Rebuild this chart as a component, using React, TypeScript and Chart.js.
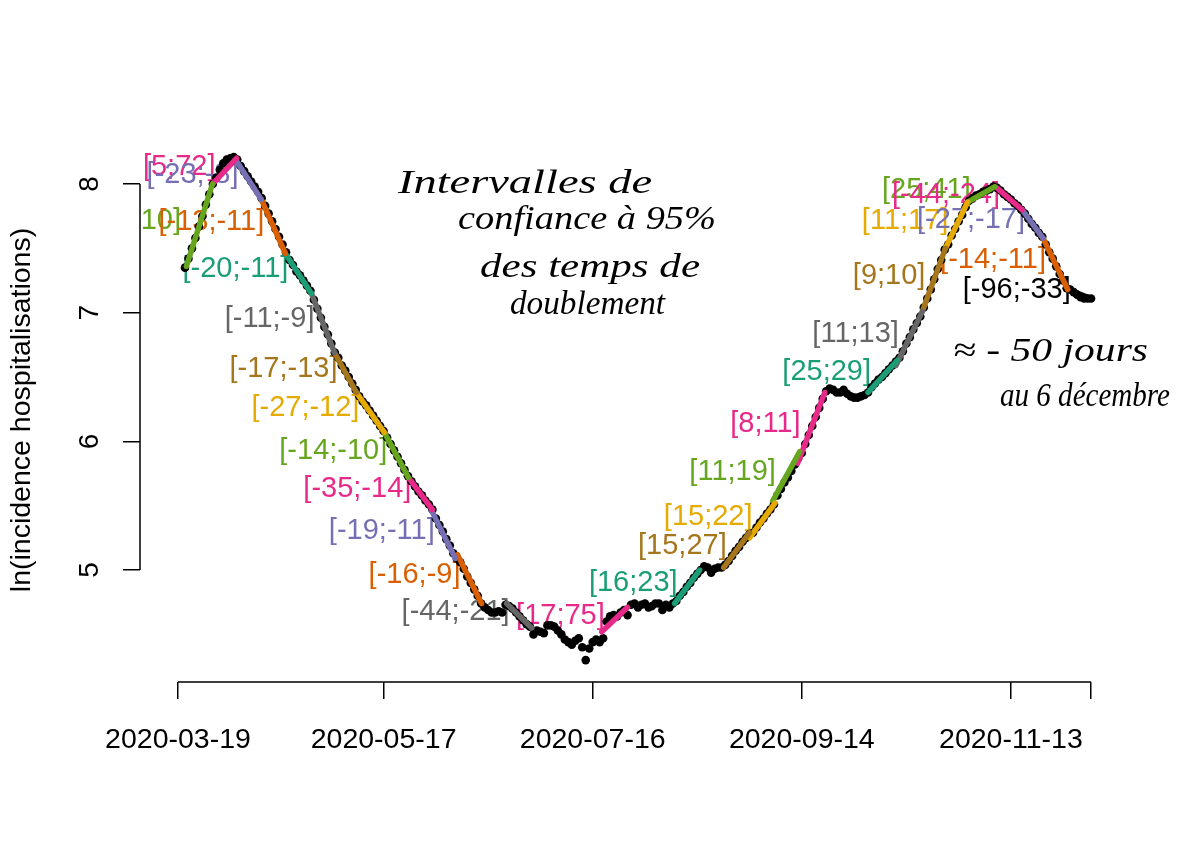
import React, { useEffect, useRef } from 'react';
import { Chart, registerables } from 'chart.js';

Chart.register(...registerables);

// Days since 2020-03-19
const startDate = '2020-03-19';
const tickDays = [0, 59, 119, 179, 239, 262];
const tickLabels = ['2020-03-19', '2020-05-17', '2020-07-16', '2020-09-14', '2020-11-13', ''];
const yTicks = [5, 6, 7, 8];
const yTitle = 'ln(incidence hospitalisations)';

// ln(incidence) per day, index = days since startDate
const lnIncidence: (number | null)[] = [
  null, null, 7.35, 7.42, 7.50, 7.58, 7.67, 7.75, 7.84, 7.92,
  8.00, 8.05, 8.11, 8.16, 8.19, 8.20, 8.21, 8.19, 8.14, 8.10,
  8.06, 8.02, 7.98, 7.94, 7.89, 7.83, 7.77, 7.71, 7.65, 7.59,
  7.53, 7.47, 7.41, 7.37, 7.32, 7.29, 7.25, 7.21, 7.17, 7.10,
  7.03, 6.96, 6.89, 6.83, 6.76, 6.69, 6.65, 6.59, 6.55, 6.50,
  6.45, 6.40, 6.35, 6.31, 6.28, 6.24, 6.20, 6.16, 6.12, 6.08,
  6.03, 5.98, 5.93, 5.88, 5.83, 5.78, 5.73, 5.69, 5.65, 5.61,
  5.58, 5.54, 5.51, 5.47, 5.40, 5.35, 5.30, 5.24, 5.19, 5.13,
  5.09, 5.06, 5.01, 4.95, 4.90, 4.85, 4.80, 4.74, 4.71, 4.69,
  4.67, 4.67, 4.68, 4.67, 4.73, 4.72, 4.70, 4.67, 4.64, 4.61,
  4.58, 4.56, 4.50, 4.53, 4.52, 4.51, 4.57, 4.57, 4.56, 4.53,
  4.50, 4.46, 4.44, 4.42, 4.45, 4.47, 4.40, 4.30, 4.39, 4.44,
  4.46, 4.44, 4.47, 4.60, 4.64, 4.65, 4.64, 4.67, 4.69, 4.65,
  4.73, 4.74, 4.71, 4.73, 4.74, 4.71, 4.72, 4.74, 4.74, 4.69,
  4.73, 4.71, 4.74, 4.76, 4.80, 4.83, 4.87, 4.90, 4.94, 4.97,
  5.00, 5.03, 5.02, 4.98, 5.01, 5.02, 5.02, 5.04, 5.07, 5.11,
  5.15, 5.18, 5.22, 5.25, 5.28, 5.29, 5.33, 5.37, 5.40, 5.44,
  5.47, 5.51, 5.58, 5.63, 5.68, 5.72, 5.77, 5.82, 5.87, 5.91,
  5.98, 6.05, 6.12, 6.19, 6.26, 6.33, 6.39, 6.41, 6.40, 6.38,
  6.38, 6.40, 6.37, 6.35, 6.34, 6.34, 6.35, 6.36, 6.38, 6.42,
  6.45, 6.48, 6.50, 6.53, 6.56, 6.59, 6.62, 6.65, 6.70, 6.76,
  6.81, 6.87, 6.92, 6.97, 7.04, 7.11, 7.18, 7.26, 7.34, 7.41,
  7.49, 7.53, 7.60, 7.65, 7.71, 7.76, 7.82, 7.87, 7.89, 7.91,
  7.92, 7.94, 7.95, 7.96, 7.98, 7.97, 7.95, 7.92, 7.90, 7.88,
  7.85, 7.83, 7.80, 7.77, 7.73, 7.69, 7.66, 7.62, 7.59, 7.53,
  7.47, 7.42, 7.36, 7.30, 7.25, 7.19, 7.18, 7.16, 7.14, 7.12,
  7.11, 7.11, 7.11,
];

// Fitted segments (days since startDate, ln values)
const segWindowStart = [0, 9.9, 16.5, 23.9, 30.8, 38.3, 44.9, 51.2, 59.2, 66.1, 72.8, 80.2, 94.3, 121.6, 142.5, 156.6, 164, 170.7, 177.8, 198, 206, 213.6, 220.2, 226.6, 235, 242.2, 248.2, 255.3];
const segStartDay = [2.4, 9.9, 16.5, 23.9, 30.8, 38.3, 44.9, 51.2, 59.2, 66.1, 72.8, 80.2, 94.3, 121.6, 142.5, 156.6, 164, 170.7, 177.8, 198, 206, 213.6, 220.2, 226.6, 235, 242.2, 248.2, 255.3];
const segEndDay = [9.9, 16.8, 23.9, 30.8, 38.3, 44.9, 51.2, 59.2, 66.1, 73.0, 79.6, 87.1, 101.5, 129, 149.7, 164, 171.3, 178.4, 185.6, 206.4, 213.6, 220.2, 226.6, 234.4, 242.2, 248.2, 255.3, 262];
const segFrom = [7.36, 8.00, 8.19, 7.88, 7.46, 7.15, 6.69, 6.38, 6.07, 5.72, 5.46, 5.12, 4.74, 4.52, 4.74, 5.02, 5.25, 5.54, 5.83, 6.38, 6.59, 7.01, 7.50, 7.86, 7.97, 7.80, 7.58, 7.18];
const segTo = [8.00, 8.20, 7.88, 7.46, 7.15, 6.69, 6.38, 6.07, 5.72, 5.47, 5.09, 4.74, 4.55, 4.71, 5.00, 5.29, 5.52, 5.92, 6.38, 6.63, 7.01, 7.50, 7.86, 7.98, 7.80, 7.58, 7.18, 7.11];
const segLabel = ['[6;10]', '[5;72]', '[-23;-8]', '[-13;-11]', '[-20;-11]', '[-11;-9]', '[-17;-13]', '[-27;-12]', '[-14;-10]', '[-35;-14]', '[-19;-11]', '[-16;-9]', '[-44;-21]', '[17;75]', '[16;23]', '[15;27]', '[15;22]', '[11;19]', '[8;11]', '[25;29]', '[11;13]', '[9;10]', '[11;17]', '[25;41]', '[-44;-24]', '[-27;-17]', '[-14;-11]', '[-96;-33]'];

const TEAL = '#1B9E77', ORANGE = '#D95F02', PURPLE = '#7570B3', PINK = '#E7298A';
const GREEN = '#66A61E', YELLOW = '#E6AB02', BROWN = '#A6761D', GREY = '#666666', BLACK = '#000000';
const segColor = [GREEN, PINK, PURPLE, ORANGE, TEAL, GREY, BROWN, YELLOW, GREEN, PINK, PURPLE, ORANGE, GREY, PINK, TEAL, BROWN, YELLOW, GREEN, PINK, TEAL, GREY, BROWN, YELLOW, GREEN, PINK, PURPLE, ORANGE, BLACK];

// Handwritten notes
const noteLines = ['Intervalles de', 'confiance à 95%', 'des temps de', 'doublement', '≈ - 50 jours', 'au 6 décembre'];

const FONT = '"Liberation Sans", Arial, Helvetica, sans-serif';

const overlay = {
  id: 'overlay',
  beforeDatasetsDraw(chart: any) {
    const { ctx, chartArea: ca, scales } = chart;
    const x = scales.x, y = scales.y;
    ctx.save();
    ctx.beginPath();
    ctx.rect(ca.left + 1, ca.top, ca.right - ca.left, ca.bottom - ca.top);
    ctx.clip();
    ctx.font = `29px ${FONT}`;
    ctx.textAlign = 'right';
    ctx.textBaseline = 'middle';
    segLabel.forEach((lab, i) => {
      const px = x.getPixelForValue(segWindowStart[i]) + 3;
      const py = y.getPixelForValue((segFrom[i] + segTo[i]) / 2) - 4;
      ctx.fillStyle = segColor[i];
      ctx.fillText(lab, px, py);
    });
    ctx.restore();
  },
  afterDraw(chart: any) {
    const { ctx, chartArea: ca, scales } = chart;
    const x = scales.x, y = scales.y;
    ctx.save();
    // R-style axis lines (first to last tick)
    ctx.strokeStyle = '#000';
    ctx.lineWidth = 1.5;
    ctx.beginPath();
    ctx.moveTo(x.getPixelForValue(tickDays[0]), ca.bottom);
    ctx.lineTo(x.getPixelForValue(tickDays[tickDays.length - 1]), ca.bottom);
    ctx.moveTo(ca.left, y.getPixelForValue(yTicks[0]));
    ctx.lineTo(ca.left, y.getPixelForValue(yTicks[yTicks.length - 1]));
    ctx.stroke();
    // rotated y tick labels
    ctx.fillStyle = '#000';
    ctx.font = `28px ${FONT}`;
    ctx.textAlign = 'center';
    ctx.textBaseline = 'middle';
    y.ticks.forEach((t: any) => {
      ctx.save();
      ctx.translate(ca.left - 50, y.getPixelForValue(t.value));
      ctx.rotate(-Math.PI / 2);
      ctx.fillText(String(t.value), 0, 0);
      ctx.restore();
    });
    // handwritten notes
    const boxes = [
      [398, 652, 184], [458, 716, 220], [480, 700, 268], [510, 665, 305],
      [953, 1148, 352], [1000, 1170, 397],
    ];
    ctx.font = `italic 34px "Liberation Serif", "DejaVu Serif", serif`;
    ctx.textAlign = 'left';
    noteLines.forEach((txt, i) => {
      const [l, r, cy] = boxes[i];
      const w = ctx.measureText(txt).width;
      ctx.save();
      ctx.translate(l, cy);
      ctx.scale((r - l) / w, 1);
      ctx.fillText(txt, 0, 0);
      ctx.restore();
    });
    ctx.restore();
  },
};

export default function App() {
  const ref = useRef<HTMLCanvasElement>(null);
  useEffect(() => {
    document.body.style.margin = '0';
    const points = lnIncidence
      .map((v, i) => ({ x: i, y: v }))
      .filter((p) => p.y !== null);
    const segDatasets = segStartDay.map((s, i) => ({
      type: 'line' as const,
      label: segLabel[i],
      data: [
        { x: s, y: segFrom[i] },
        { x: segEndDay[i], y: segTo[i] },
      ],
      borderColor: segColor[i],
      backgroundColor: segColor[i],
      borderWidth: 5.5,
      borderCapStyle: 'round' as const,
      pointRadius: 0,
      fill: false,
      tension: 0,
    }));
    const chart = new Chart(ref.current as HTMLCanvasElement, {
      type: 'scatter',
      data: {
        datasets: [
          ...segDatasets,
          {
            type: 'scatter' as const,
            label: 'ln(incidence) depuis ' + startDate,
            data: points as any,
            backgroundColor: '#000',
            borderColor: '#000',
            borderWidth: 0,
            pointRadius: 4.3,
          },
        ] as any,
      },
      options: {
        animation: false,
        responsive: false,
        layout: { padding: { left: 0, top: 138, right: 72, bottom: 0 } },
        plugins: { legend: { display: false }, tooltip: { enabled: false } },
        scales: {
          x: {
            type: 'linear',
            min: -10.9,
            max: 272.6,
            afterFit: (s: any) => { s.height = 175; },
            afterBuildTicks: (s: any) => { s.ticks = tickDays.map((v) => ({ value: v })); },
            ticks: {
              autoSkip: false,
              maxRotation: 0,
              minRotation: 0,
              color: '#000',
              padding: 24,
              font: { family: FONT, size: 28.5 },
              callback: (_v: any, i: number) => tickLabels[i],
            },
            grid: { drawOnChartArea: false, drawTicks: true, tickLength: 17, color: '#000', lineWidth: 1.5 },
            border: { display: false },
          },
          y: {
            type: 'linear',
            min: 4.13,
            max: 8.3575,
            afterFit: (s: any) => { s.width = 140; },
            afterBuildTicks: (s: any) => { s.ticks = yTicks.map((v) => ({ value: v })); },
            ticks: { display: false },
            title: {
              display: true,
              text: yTitle,
              color: '#000',
              font: { family: FONT, size: 28.5 },
              padding: { top: 5, bottom: 0 },
            },
            grid: { drawOnChartArea: false, drawTicks: true, tickLength: 17, color: '#000', lineWidth: 1.5 },
            border: { display: false },
          },
        },
      } as any,
      plugins: [overlay],
    });
    return () => chart.destroy();
  }, []);
  return (
    <div style={{ position: 'absolute', left: 0, top: 0, width: 1200, height: 857, background: '#fff' }}>
      <canvas ref={ref} width={1200} height={857} style={{ width: 1200, height: 857 }} />
    </div>
  );
}
